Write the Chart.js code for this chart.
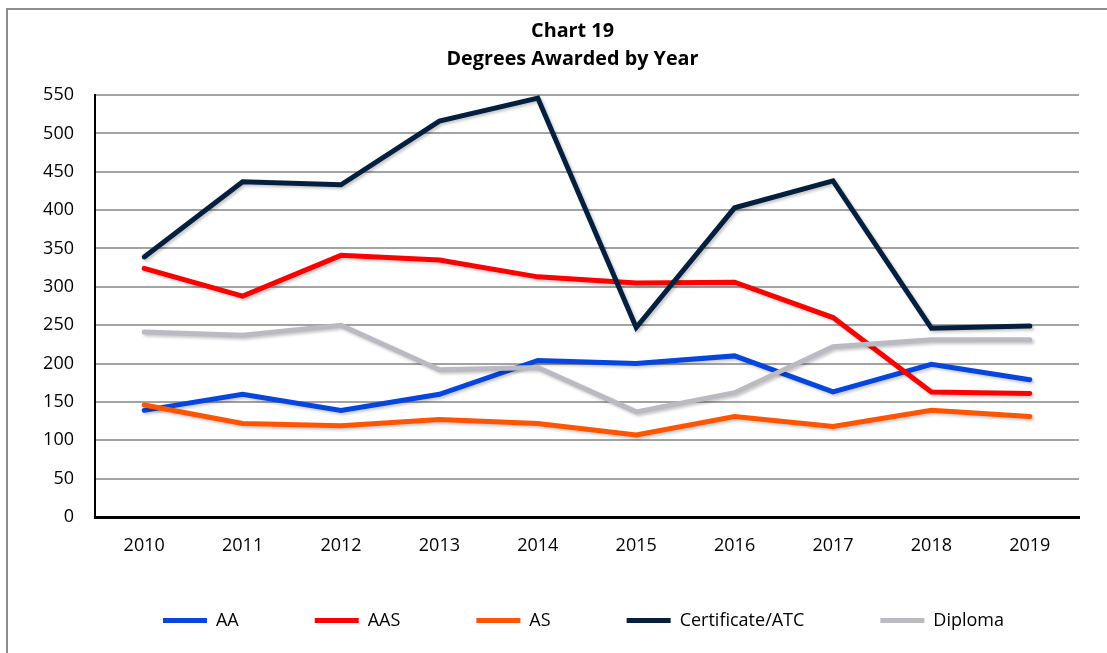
<!DOCTYPE html>
<html>
<head>
<meta charset="utf-8">
<script src="https://cdn.jsdelivr.net/npm/chart.js@4/dist/chart.umd.min.js"></script>
<style>
  html, body { margin: 0; padding: 0; background: #fff; overflow: hidden; }
  #frame { position: absolute; left: 6px; top: 8px; width: 1200px; height: 800px; border: 2px solid #8d8d8d; }
  #myChart { position: absolute; left: 0; top: 0; }
</style>
</head>
<body>
<div id="frame"></div>
<canvas id="myChart" width="1107" height="653"></canvas>
<script>
const years = ["2010", "2011", "2012", "2013", "2014", "2015", "2016", "2017", "2018", "2019"];
const aaValues = [139, 160, 139, 160, 204, 200, 210, 163, 199, 179];
const aasValues = [324, 288, 341, 335, 313, 305, 306, 260, 163, 161];
const asValues = [146, 122, 119, 127, 122, 107, 131, 118, 139, 131];
const certValues = [339, 437, 433, 516, 546, 247, 403, 438, 246, 249];
const diplomaValues = [241, 237, 250, 192, 195, 137, 162, 222, 231, 231];

const font = "'Open Sans', 'Noto Sans', sans-serif";

function series(label, color, values, order) {
  return {
    label: label,
    data: values,
    borderColor: color,
    backgroundColor: color,
    borderWidth: 5,
    borderCapStyle: "round",
    pointRadius: 0,
    pointHoverRadius: 0,
    tension: 0,
    order: order
  };
}

// excel-like soft shadow under the lines
const shadow = {
  id: "shadow",
  beforeDatasetsDraw(chart) {
    const ctx = chart.ctx;
    ctx.save();
    ctx.shadowColor = "rgba(0,0,0,0.22)";
    ctx.shadowBlur = 3;
    ctx.shadowOffsetX = 2;
    ctx.shadowOffsetY = 2;
  },
  afterDatasetsDraw(chart) {
    chart.ctx.restore();
  }
};

// title and legend are not centred on the same point in the original,
// and the legend needs wide item gaps without the tall box that comes with them
const nudge = {
  id: "nudge",
  afterLayout(chart) {
    chart.titleBlock.left += 13;
    chart.titleBlock.right += 13;
    const lg = chart.legend;
    lg.left += 24;
    lg.right += 24;
    lg.top = 535.5;
    lg.bottom = 653;
    lg.height = lg.bottom - lg.top;
  }
};

const data = {
  labels: years,
  datasets: [
    series("AA", "#0645de", aaValues, 5),
    series("AAS", "#ff0000", aasValues, 4),
    series("AS", "#ff5500", asValues, 3),
    series("Certificate/ATC", "#05203f", certValues, 2),
    series("Diploma", "#bbbac3", diplomaValues, 1)
  ]
};

const config = {
  type: "line",
  data: data,
  plugins: [shadow, nudge],
  options: {
    responsive: false,
    animation: false,
    layout: { padding: { left: 40, right: 28, top: 0, bottom: 46.4 } },
    plugins: {
      title: {
        display: true,
        text: ["Chart 19", "Degrees Awarded by Year"],
        color: "#000",
        font: { family: font, size: 19.8, weight: "bold", lineHeight: 1.43 },
        padding: { top: 17, bottom: 21.4 }
      },
      legend: {
        position: "bottom",
        maxHeight: 50,
        labels: {
          usePointStyle: true,
          pointStyle: "line",
          pointStyleWidth: 44,
          color: "#000",
          font: { family: font, size: 18 },
          padding: 76,
          sort: (a, b) => a.datasetIndex - b.datasetIndex
        }
      },
      tooltip: { enabled: false }
    },
    scales: {
      x: {
        offset: true,
        grid: { display: false, drawTicks: false },
        border: { display: true, color: "#000", width: 3 },
        ticks: { color: "#000", font: { family: font, size: 18, lineHeight: 1.2 }, padding: 18, maxRotation: 0 },
        afterFit: (scale) => { scale.height = 39.6; }
      },
      y: {
        min: 0,
        max: 550,
        ticks: { stepSize: 50, color: "#000", font: { family: font, size: 18 }, padding: 21 },
        grid: { color: "#a3a3a3", lineWidth: 2, drawTicks: false },
        border: { display: true, color: "#000", width: 2 },
        afterFit: (scale) => { scale.width = 55; }
      }
    }
  }
};

const myChart = new Chart(document.getElementById("myChart"), config);
</script>
</body>
</html>
